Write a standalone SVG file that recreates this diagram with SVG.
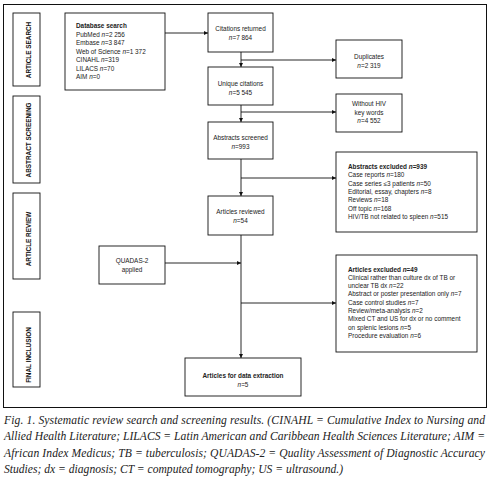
<svg xmlns="http://www.w3.org/2000/svg" width="493" height="486" viewBox="0 0 493 486">
<style>
.box{fill:#fff;stroke:#111;stroke-width:0.9}
.frame{fill:#fff;stroke:#111;stroke-width:1}
.t{font-family:"Liberation Sans",Arial,sans-serif;font-size:6.4px;fill:#222}
.c{text-anchor:middle}
.b{font-weight:bold}
.i{font-style:italic}
.lab{font-family:"Liberation Sans",Arial,sans-serif;font-size:6.4px;font-weight:bold;fill:#111;text-anchor:middle}
.ln{fill:none;stroke:#111;stroke-width:0.9}
.cap{font-family:"Liberation Serif","Times New Roman",serif;font-style:italic;font-size:11.6px;fill:#222}
</style>
<defs>
<marker id="ah" viewBox="0 0 6 6" refX="6" refY="3" markerWidth="4.5" markerHeight="4.5" orient="auto" markerUnits="userSpaceOnUse">
<path d="M0,0 L6,3 L0,6 z" fill="#111"/>
</marker>
</defs>
<rect width="493" height="486" fill="#fff"/>
<rect class="frame" x="3.5" y="4.5" width="483" height="403"/>

<g id="stages">
<g id="stage-search"><rect class="box" x="13" y="13" width="27" height="73"/><text class="lab" transform="translate(30.5,50) rotate(-90)">ARTICLE SEARCH</text></g>
<g id="stage-screening"><rect class="box" x="13" y="96" width="27" height="87"/><text class="lab" transform="translate(30.5,140) rotate(-90)">ABSTRACT SCREENING</text></g>
<g id="stage-review"><rect class="box" x="13" y="193" width="27" height="86"/><text class="lab" transform="translate(30.5,239) rotate(-90)">ARTICLE REVIEW</text></g>
<g id="stage-final"><rect class="box" x="13" y="312" width="27" height="75"/><text class="lab" transform="translate(30.5,355) rotate(-90)">FINAL INCLUSION</text></g>
</g>

<g id="connectors">
<line class="ln" x1="165" y1="33" x2="208" y2="33" marker-end="url(#ah)"/>
<line class="ln" x1="241" y1="52" x2="241" y2="67" marker-end="url(#ah)"/>
<line class="ln" x1="241" y1="60" x2="336" y2="60" marker-end="url(#ah)"/>
<line class="ln" x1="241" y1="105" x2="241" y2="122" marker-end="url(#ah)"/>
<line class="ln" x1="241" y1="112" x2="336" y2="112" marker-end="url(#ah)"/>
<line class="ln" x1="241" y1="159" x2="241" y2="196" marker-end="url(#ah)"/>
<line class="ln" x1="241" y1="178" x2="336" y2="178" marker-end="url(#ah)"/>
<line class="ln" x1="241" y1="235" x2="241" y2="358" marker-end="url(#ah)"/>
<line class="ln" x1="165" y1="263" x2="241" y2="263" marker-end="url(#ah)"/>
<line class="ln" x1="241" y1="303" x2="336" y2="303" marker-end="url(#ah)"/>
</g>

<g id="database-search">
<rect class="box" x="65" y="13" width="100" height="77"/>
<text class="t" x="76" y="28"><tspan class="b">Database search</tspan></text>
<text class="t" x="76" y="36.5">PubMed <tspan class="i">n</tspan>=2 256</text>
<text class="t" x="76" y="45">Embase <tspan class="i">n</tspan>=3 847</text>
<text class="t" x="76" y="53.5">Web of Science <tspan class="i">n</tspan>=1 372</text>
<text class="t" x="76" y="62">CINAHL <tspan class="i">n</tspan>=319</text>
<text class="t" x="76" y="70.5">LILACS <tspan class="i">n</tspan>=70</text>
<text class="t" x="76" y="79">AIM <tspan class="i">n</tspan>=0</text>
</g>

<g id="citations-returned">
<rect class="box" x="208" y="13" width="65" height="39"/>
<text class="t c" x="240.5" y="31">Citations returned</text>
<text class="t c" x="240.5" y="40"><tspan class="i">n</tspan>=7 864</text>
</g>

<g id="unique-citations">
<rect class="box" x="208" y="67" width="65" height="38"/>
<text class="t c" x="240.5" y="86">Unique citations</text>
<text class="t c" x="240.5" y="95"><tspan class="i">n</tspan>=5 545</text>
</g>

<g id="duplicates">
<rect class="box" x="336" y="40" width="66" height="38"/>
<text class="t c" x="369" y="59">Duplicates</text>
<text class="t c" x="369" y="68"><tspan class="i">n</tspan>=2 319</text>
</g>

<g id="without-hiv">
<rect class="box" x="336" y="94" width="66" height="38"/>
<text class="t c" x="369" y="106">Without HIV</text>
<text class="t c" x="369" y="114.5">key words</text>
<text class="t c" x="369" y="123"><tspan class="i">n</tspan>=4 552</text>
</g>

<g id="abstracts-screened">
<rect class="box" x="208" y="122" width="65" height="37"/>
<text class="t c" x="240.5" y="140">Abstracts screened</text>
<text class="t c" x="240.5" y="149"><tspan class="i">n</tspan>=993</text>
</g>

<g id="abstracts-excluded">
<rect class="box" x="336" y="152" width="141" height="80"/>
<text class="t" x="348" y="169"><tspan class="b">Abstracts excluded <tspan class="i">n</tspan>=939</tspan></text>
<text class="t" x="348" y="177.3">Case reports <tspan class="i">n</tspan>=180</text>
<text class="t" x="348" y="185.6">Case series ≤3 patients <tspan class="i">n</tspan>=50</text>
<text class="t" x="348" y="193.9">Editorial, essay, chapters <tspan class="i">n</tspan>=8</text>
<text class="t" x="348" y="202.2">Reviews <tspan class="i">n</tspan>=18</text>
<text class="t" x="348" y="210.5">Off topic <tspan class="i">n</tspan>=168</text>
<text class="t" x="348" y="218.8">HIV/TB not related to spleen <tspan class="i">n</tspan>=515</text>
</g>

<g id="articles-reviewed">
<rect class="box" x="208" y="196" width="65" height="39"/>
<text class="t c" x="240.5" y="214">Articles reviewed</text>
<text class="t c" x="240.5" y="223"><tspan class="i">n</tspan>=54</text>
</g>

<g id="quadas">
<rect class="box" x="99" y="246" width="66" height="38"/>
<text class="t c" x="132" y="263">QUADAS-2</text>
<text class="t c" x="132" y="272">applied</text>
</g>

<g id="articles-excluded">
<rect class="box" x="336" y="255" width="141" height="97"/>
<text class="t" x="348" y="271.5"><tspan class="b">Articles excluded <tspan class="i">n</tspan>=49</tspan></text>
<text class="t" x="348" y="279.8">Clinical rather than culture dx of TB or</text>
<text class="t" x="348" y="288.1">unclear TB dx <tspan class="i">n</tspan>=22</text>
<text class="t" x="348" y="296.4">Abstract or poster presentation only <tspan class="i">n</tspan>=7</text>
<text class="t" x="348" y="304.7">Case control studies <tspan class="i">n</tspan>=7</text>
<text class="t" x="348" y="313">Review/meta-analysis <tspan class="i">n</tspan>=2</text>
<text class="t" x="348" y="321.3">Mixed CT and US for dx or no comment</text>
<text class="t" x="348" y="329.6">on splenic lesions <tspan class="i">n</tspan>=5</text>
<text class="t" x="348" y="337.9">Procedure evaluation <tspan class="i">n</tspan>=6</text>
</g>

<g id="data-extraction">
<rect class="box" x="185" y="358" width="116" height="38"/>
<text class="t c b" x="243" y="378">Articles for data extraction</text>
<text class="t c" x="243" y="386.5"><tspan class="i">n</tspan>=5</text>
</g>

<g id="caption">
<text class="cap" x="4" y="424" textLength="481" lengthAdjust="spacing">Fig. 1. Systematic review search and screening results. (CINAHL = Cumulative Index to Nursing and</text>
<text class="cap" x="4" y="440" textLength="481" lengthAdjust="spacing">Allied Health Literature; LILACS = Latin American and Caribbean Health Sciences Literature; AIM =</text>
<text class="cap" x="4" y="456.5" textLength="481" lengthAdjust="spacing">African Index Medicus; TB = tuberculosis; QUADAS-2 = Quality Assessment of Diagnostic Accuracy</text>
<text class="cap" x="4" y="472.5" textLength="339" lengthAdjust="spacing">Studies; dx = diagnosis; CT = computed tomography; US = ultrasound.)</text>
</g>
</svg>
